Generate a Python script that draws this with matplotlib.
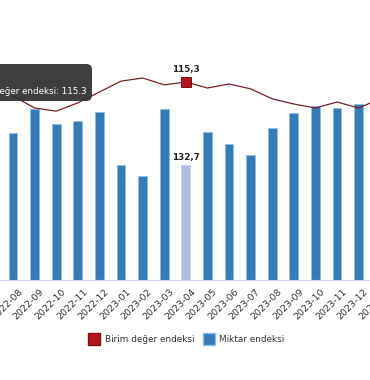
import matplotlib
matplotlib.use("Agg")
import matplotlib.pyplot as plt
import matplotlib.transforms as mtransforms
from matplotlib.patches import FancyBboxPatch
from matplotlib.lines import Line2D

# monthly data, 2022-08 .. 2024-01
months = ["2022-08", "2022-09", "2022-10", "2022-11", "2022-12", "2023-01",
          "2023-02", "2023-03", "2023-04", "2023-05", "2023-06", "2023-07",
          "2023-08", "2023-09", "2023-10", "2023-11", "2023-12", "2024-01"]
miktar = [169.6, 197.3, 180.0, 183.5, 193.9, 132.5, 120.0, 197.3, 132.7,
          170.8, 156.9, 144.3, 175.4, 192.7, 200.8, 198.5, 203.1, 195.0]
birim = [110.4, 106.2, 105.1, 108.0, 111.8, 115.6, 116.7, 114.3, 115.3,
         113.2, 114.6, 112.9, 109.4, 107.6, 106.2, 108.3, 106.2, 109.4]
hover = "2023-04"

W, H = 370, 380
fig = plt.figure(figsize=(W / 100, H / 100), dpi=100)
fig.patch.set_facecolor("white")

# plot area is wider than the picture, the chart is cropped on both sides
ax_left, ax_right, ax_top, ax_bottom = -37, 407, 40, 280
ax = fig.add_axes([ax_left / W, (H - ax_bottom) / H,
                   (ax_right - ax_left) / W, (ax_bottom - ax_top) / H])
x = list(range(len(months)))
hi = months.index(hover)

colors = ["#a9bfe3" if i == hi else "#347bb9" for i in x]
edges = ["#c9d8ef" if i == hi else "#8fbbe3" for i in x]
ax.bar(x, miktar, width=0.4, color=colors, edgecolor=edges, linewidth=0.6, zorder=2)
ax.set_xlim(-2.315, 18.24)
ax.set_ylim(0, 276.9)

for s in ["top", "right", "left"]:
    ax.spines[s].set_visible(False)
ax.spines["bottom"].set_color("#ccd6eb")
ax.spines["bottom"].set_linewidth(0.8)
ax.set_yticks([])
ax.set_xticks(x)
ax.set_xticklabels(months, rotation=45, ha="right", va="top",
                   rotation_mode="anchor", fontsize=6.8, color="#333333")
ax.tick_params(axis="x", length=0, pad=5)
off = mtransforms.ScaledTranslation(5 / 100, 0, fig.dpi_scale_trans)
for lab in ax.get_xticklabels():
    lab.set_transform(lab.get_transform() + off)

ax.annotate(f"{miktar[hi]:.1f}".replace(".", ","), (hi, miktar[hi]),
            xytext=(0, 2), textcoords="offset points", ha="center", va="bottom",
            fontsize=6.3, fontweight="bold", color="#222222")

ax2 = ax.twinx()
ax2.set_ylim(46.0, 130.0)
ax2.plot(x, birim, color="#7a1f24", linewidth=0.9, zorder=3)
ax2.plot([hi], [birim[hi]], marker="s", markersize=7.5, color="#b3171d",
         markeredgecolor="#7d1015", markeredgewidth=0.7, zorder=4)
ax2.annotate(f"{birim[hi]:.1f}".replace(".", ","), (hi, birim[hi]),
             xytext=(0, 6), textcoords="offset points", ha="center", va="bottom",
             fontsize=6.3, fontweight="bold", color="#222222")
ax2.set_yticks([])
for s in ax2.spines.values():
    s.set_visible(False)

# hover tooltip, cut off on the left
tip = FancyBboxPatch((-20 / W, (H - 101) / H), 112 / W, 37 / H,
                     boxstyle="round,pad=0,rounding_size=0.015",
                     transform=fig.transFigure, facecolor="#2e2e2e",
                     edgecolor="none", alpha=0.92, zorder=10)
fig.patches.append(tip)
fig.text(87 / W, (H - 91) / H, f"Birim değer endeksi: {birim[hi]}",
         ha="right", va="center", fontsize=6.3, color="white", zorder=11)

handles = [Line2D([], [], marker="s", linestyle="none", markersize=8,
                  color="#b3171d", markeredgecolor="#7d1015"),
           Line2D([], [], marker="s", linestyle="none", markersize=8,
                  color="#347bb9", markeredgecolor="#8fbbe3")]
fig.legend(handles, ["Birim değer endeksi", "Miktar endeksi"],
           loc="center", bbox_to_anchor=(185 / W, (H - 340) / H), ncol=2,
           frameon=False, fontsize=6.4, handletextpad=0.2, columnspacing=0.6,
           labelcolor="#333333")

fig.savefig("out.png", dpi=100)
